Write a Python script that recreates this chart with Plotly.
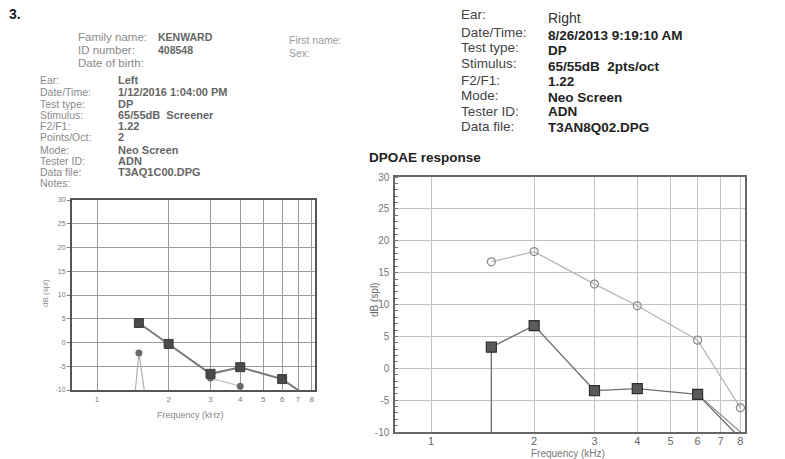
import math
import plotly.graph_objects as go

# ---------------- data ----------------
freq_ticks = [1, 2, 3, 4, 5, 6, 7, 8]
y_ticks = [-10, -5, 0, 5, 10, 15, 20, 25, 30]

# right ear (DPOAE response)
r_dp_freq = [1.5, 2, 3, 4, 6, 8]
r_dp_db = [16.7, 18.3, 13.2, 9.8, 4.4, -6.2]
r_nf_freq = [1.5, 2, 3, 4, 6]
r_nf_db = [3.3, 6.7, -3.5, -3.2, -4.1]
r_nf_line_freq = [1.5, 1.5, 2, 3, 4, 6, 8]
r_nf_line_db = [-10, 3.3, 6.7, -3.5, -3.2, -4.1, -11]
r_aux_freq = [6, 8]
r_aux_db = [-4.1, -10]

# left ear (blurred print)
l_dp_freq = [1.5, 2, 3, 4, 6]
l_dp_db = [4.1, -0.3, -6.6, -5.2, -7.7]
l_dp_line_freq = [1.5, 2, 3, 4, 6, 8]
l_dp_line_db = [4.1, -0.3, -6.6, -5.2, -7.7, -12]
l_nf_freq = [1.5, 3, 4]
l_nf_db = [-2.2, -7.5, -9.2]
l_nf_line_freq = [1.45, 1.5, 1.58]
l_nf_line_db = [-10, -2.2, -10]
l_nf2_line_freq = [3, 4]
l_nf2_line_db = [-7.5, -9.2]

right_labels = ["Ear:", "Date/Time:", "Test type:", "Stimulus:", "F2/F1:", "Mode:", "Tester ID:", "Data file:"]
right_values = ["Right", "8/26/2013 9:19:10 AM", "DP", "65/55dB  2pts/oct", "1.22", "Neo Screen", "ADN", "T3AN8Q02.DPG"]

left_hdr_labels = ["Family name:", "ID number:", "Date of birth:"]
left_hdr_values = ["KENWARD", "408548", ""]
left_labels = ["Ear:", "Date/Time:", "Test type:", "Stimulus:", "F2/F1:", "Points/Oct:", "Mode:", "Tester ID:", "Data file:", "Notes:"]
left_values = ["Left", "1/12/2016 1:04:00 PM", "DP", "65/55dB  Screener", "1.22", "2", "Neo Screen", "ADN", "T3AQ1C00.DPG", ""]

W, H = 785, 459
FONT = "Arial, Liberation Sans, sans-serif"


def px(x):
    return x / W


def py(y):
    return 1 - y / H


fig = go.Figure()

# ---------- right chart traces ----------
fig.add_trace(go.Scatter(x=r_dp_freq, y=r_dp_db, mode="lines+markers", xaxis="x2", yaxis="y2",
                         line=dict(color="#b5b5b5", width=1.3),
                         marker=dict(symbol="circle-open", size=8, color="#8a8a8a", line=dict(width=1.2)),
                         showlegend=False))
fig.add_trace(go.Scatter(x=r_aux_freq, y=r_aux_db, mode="lines", xaxis="x2", yaxis="y2",
                         line=dict(color="#8a8a8a", width=1.1), showlegend=False))
fig.add_trace(go.Scatter(x=r_nf_line_freq, y=r_nf_line_db, mode="lines", xaxis="x2", yaxis="y2",
                         line=dict(color="#6e6e6e", width=1.3), showlegend=False))
fig.add_trace(go.Scatter(x=r_nf_freq, y=r_nf_db, mode="markers", xaxis="x2", yaxis="y2",
                         marker=dict(symbol="square", size=10, color="#5a5a5a",
                                     line=dict(color="#2e2e2e", width=1.2)),
                         showlegend=False))

# ---------- left chart traces ----------
fig.add_trace(go.Scatter(x=l_nf_line_freq, y=l_nf_line_db, mode="lines", xaxis="x", yaxis="y",
                         line=dict(color="#b0b0b0", width=1.2), showlegend=False))
fig.add_trace(go.Scatter(x=l_nf2_line_freq, y=l_nf2_line_db, mode="lines", xaxis="x", yaxis="y",
                         line=dict(color="#c4c4c4", width=1.2), showlegend=False))
fig.add_trace(go.Scatter(x=l_nf_freq, y=l_nf_db, mode="markers", xaxis="x", yaxis="y",
                         marker=dict(symbol="circle", size=7, color="#6a6a6a"), showlegend=False))
fig.add_trace(go.Scatter(x=l_dp_line_freq, y=l_dp_line_db, mode="lines", xaxis="x", yaxis="y",
                         line=dict(color="#7a7a7a", width=2), showlegend=False))
fig.add_trace(go.Scatter(x=l_dp_freq, y=l_dp_db, mode="markers", xaxis="x", yaxis="y",
                         marker=dict(symbol="square", size=9, color="#4a4a4a",
                                     line=dict(color="#3a3a3a", width=1)),
                         showlegend=False))

xr = [math.log10(0.785), math.log10(8.25)]

common_x = dict(type="log", range=xr, tickmode="array", tickvals=freq_ticks,
                ticktext=[str(v) for v in freq_ticks], showgrid=True, showline=True,
                mirror=True, zeroline=False, ticks="", automargin=False)
common_y = dict(range=[-10, 30], tickmode="array", tickvals=y_ticks,
                ticktext=[str(v) for v in y_ticks], showgrid=True, showline=True, mirror=True,
                zeroline=False, automargin=False)

fig.update_layout(
    width=W, height=H,
    margin=dict(l=0, r=0, t=0, b=0),
    paper_bgcolor="white", plot_bgcolor="white",
    xaxis=dict(common_x, domain=[px(72), px(315)], anchor="y", gridcolor="#9a9a9a",
               linecolor="#555", linewidth=2, tickfont=dict(size=8, color="#777", family=FONT)),
    yaxis=dict(common_y, domain=[py(390), py(200)], anchor="x", gridcolor="#9a9a9a",
               linecolor="#555", linewidth=2, ticks="outside", ticklen=3, tickcolor="#777",
               tickfont=dict(size=7, color="#777", family=FONT)),
    xaxis2=dict(common_x, domain=[px(395), px(745)], anchor="y2", gridcolor="#c2c2c2",
                linecolor="#666", linewidth=1.5, ticklabelstandoff=-2,
                tickfont=dict(size=11, color="#666", family=FONT)),
    yaxis2=dict(common_y, domain=[py(432), py(177)], anchor="x2", gridcolor="#c2c2c2",
                linecolor="#666", linewidth=1.5, ticks="", ticklabelstandoff=2,
                minor=dict(dtick=1, ticks="inside", ticklen=3, tickcolor="#777", showgrid=False),
                tickfont=dict(size=10, color="#777", family=FONT)),
)

ann = []


def text(x, y, s, size, color, bold=False, xanchor="left", angle=0):
    ann.append(dict(x=px(x), y=py(y), xref="paper", yref="paper", text=(f"<b>{s}</b>" if bold else s),
                    showarrow=False, xanchor=xanchor, yanchor="middle", textangle=angle, borderpad=0,
                    font=dict(size=size, color=color, family=FONT)))


# right header block
r_lab_y = [15, 32, 48, 64, 80, 95, 111, 126]
r_val_y = [18, 35, 50, 67, 82, 97, 112, 127]
for i, (lab, val, ly, vy) in enumerate(zip(right_labels, right_values, r_lab_y, r_val_y)):
    text(460, ly, lab, 13.5, "#444")
    text(547, vy, val, 13.5 if i else 14, "#333" if i == 0 else "#222", bold=(i != 0))
text(368, 157, "DPOAE response", 13.5, "#222", bold=True)
text(374, 300, "dB (spl)", 10, "#666", xanchor="center", angle=-90)
text(568, 453, "Frequency (kHz)", 10, "#777", xanchor="center")

# left header block (faded)
for lab, val, yy in zip(left_hdr_labels, left_hdr_values, [37, 50, 63]):
    text(77, yy, lab, 11.5, "#8a8a8a")
    if val:
        text(157, yy, val, 10.5, "#666", bold=True)
text(288, 40, "First name:", 10.5, "#9a9a9a")
text(288, 53, "Sex:", 10.5, "#9a9a9a")
l_rows_y = [80, 92, 104, 115, 126, 137, 150, 161, 172, 183]
for lab, val, yy in zip(left_labels, left_values, l_rows_y):
    text(39, yy, lab, 10.5, "#8a8a8a")
    if val:
        text(117, yy, val, 11, "#666", bold=True)
text(45, 293, "dB (spl)", 8, "#888", xanchor="center", angle=-90)
text(190, 415, "Frequency (kHz)", 9, "#888", xanchor="center")
text(8, 14, "3.", 14, "#222", bold=True)

fig.update_layout(annotations=ann)
fig.write_html("out.html", config={"displayModeBar": False},
               post_script="document.body.style.margin='0';")
